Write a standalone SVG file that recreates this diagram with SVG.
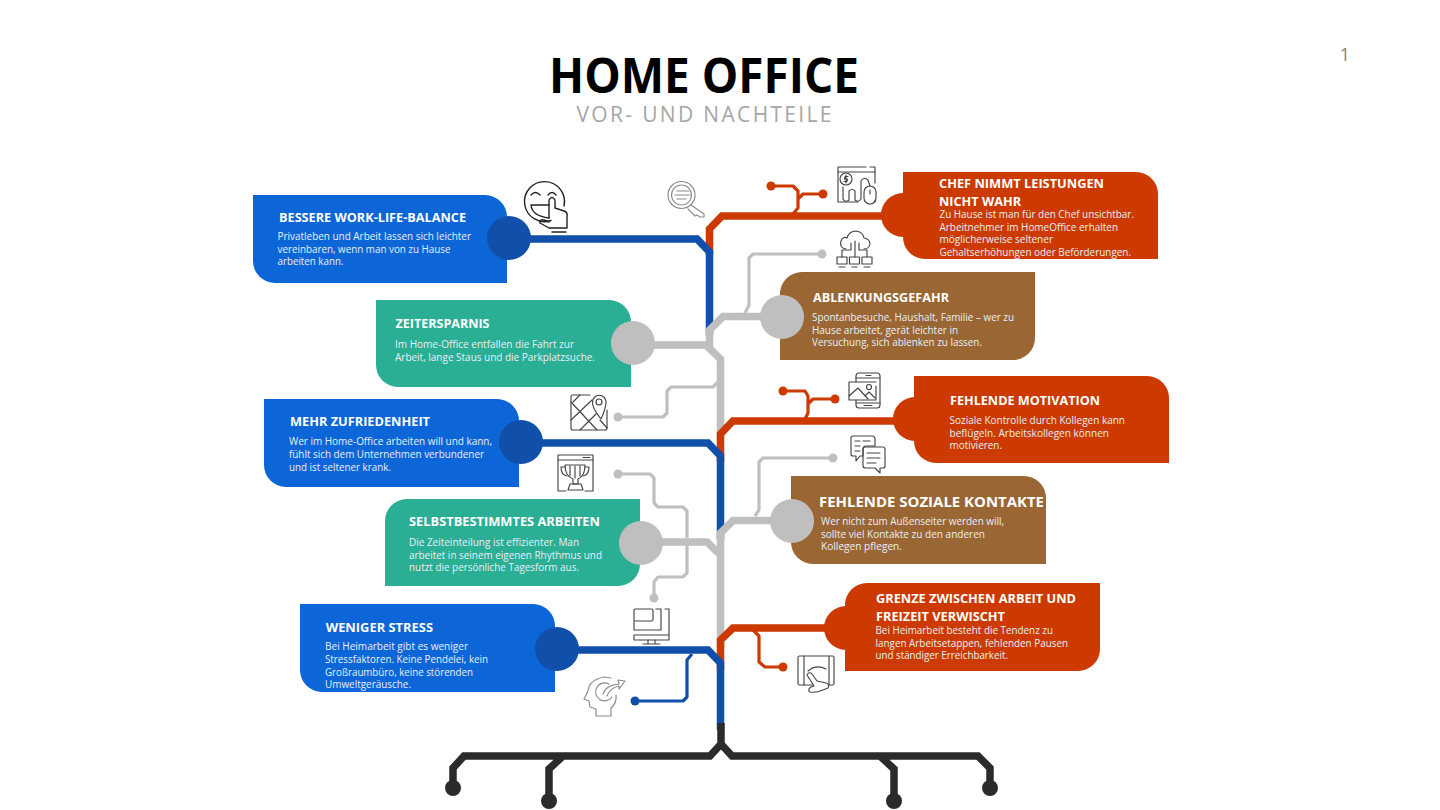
<svg xmlns="http://www.w3.org/2000/svg" width="1440" height="810" viewBox="0 0 1440 810">
<style>
text{font-family:"Open Sans","Noto Sans","Liberation Sans",sans-serif}
.h{font-size:13px;font-weight:700;fill:#fff}
.b{font-size:11px;fill:#e9eff7}
.blue{fill:#0c66d8}.green{fill:#2aae94}.red{fill:#cc3a00}.brown{fill:#9a6634}
.cb{fill:#1050aa}.cg{fill:#bfbfbf}.cr{fill:#cc3a00}
.w{fill:none;stroke-width:7.500;stroke-linejoin:miter}
.t{fill:none;stroke-width:3.200;stroke-linejoin:round}
.sb{stroke:#1050aa}.sg{stroke:#bfbfbf}.sr{stroke:#cc3a00}.sk{stroke:#2b2b2b}
.i{fill:none;stroke:#444;stroke-width:1.150;stroke-linecap:round;stroke-linejoin:round}
.il{fill:none;stroke:#8c8c8c;stroke-width:1.200;stroke-linecap:round;stroke-linejoin:round}
</style>
<text x="704" y="93" text-anchor="middle" textLength="310" lengthAdjust="spacingAndGlyphs" style="font-size:48px;font-weight:700" fill="#000">HOME OFFICE</text>
<text x="704" y="122" text-anchor="middle" textLength="255" style="font-size:21px" fill="#a6a6a6">VOR- UND NACHTEILE</text>
<text x="1345" y="61" text-anchor="middle" style="font-size:18px" fill="#7f7f7f">1</text>

<g id="connectors">
<path class="w sr" d="M885 216H722L709.500 229V255"/>
<path class="t sr" d="M771 186H793L798 191V208L793 214M823 194H803L798 199"/>
<circle class="cr" cx="771" cy="186" r="4.500"/><circle class="cr" cx="823" cy="194" r="4.500"/>
<path class="w sb" d="M530 239H697L709.500 252V335"/>
<path class="t sg" d="M822 254H753L749 258V305L745 313"/><circle class="cg" cx="822" cy="254" r="4.500"/>
<path class="t sg" d="M618 417H663L667 413V391L671 387H713L718 382"/><circle class="cg" cx="618" cy="417" r="4.500"/>
<path class="w sg" d="M770 316.500H723L709.500 330V350"/>
<path class="w sg" d="M650 345H706L720.500 359V440"/>
<path class="w sr" d="M895 421H733L720.500 434V462"/>
<path class="t sr" d="M783 391H805L808 396V413L805 419M835 399H813L808 404"/>
<circle class="cr" cx="783" cy="391" r="4.500"/><circle class="cr" cx="835" cy="399" r="4.500"/>
<path class="w sb" d="M540 443H708L720.500 456V540"/>
<path class="t sg" d="M833 458H763L759 462V510L755 516"/><circle class="cg" cx="833" cy="458" r="4.500"/>
<path class="t sg" d="M618 474H650L654 478V503L658 507H683L687 511V538M654 598V582L658 577H683L687 573V545"/>
<circle class="cg" cx="618" cy="474" r="4.500"/><circle class="cg" cx="654" cy="598" r="4.500"/>
<path class="w sg" d="M780 520.500H733L720.500 533V555"/>
<path class="w sg" d="M660 542H707L720.500 555V648"/>
<path class="w sr" d="M830 628H733L720.500 640V670"/>
<path class="t sr" d="M753 630L759 636V662L765 667H783"/><circle class="cr" cx="783" cy="667" r="4.500"/>
<path class="w sb" d="M575 650H708L720.500 663V730"/>
<path class="t sb" d="M635 701H683L687 697V660L692 654"/><circle class="cb" cx="635" cy="701" r="4.500"/>
<path class="w sk" d="M721 723V744M453 788V768L464 756H710L721 744L732 756H978L990 768V788M549 801V769L563 756M894 801V769L880 756"/>
<circle fill="#2b2b2b" cx="453" cy="788" r="8"/><circle fill="#2b2b2b" cx="549" cy="801" r="8"/><circle fill="#2b2b2b" cx="894" cy="801" r="8"/><circle fill="#2b2b2b" cx="990" cy="788" r="8"/>
</g>

<g id="node-balance">
<path class="blue" d="M253 195H485A22 22 0 0 1 507 217V283H275A22 22 0 0 1 253 261Z"/>
<circle class="cb" cx="509" cy="238" r="22"/>
<text class="h" x="279" y="222" textLength="187" lengthAdjust="spacingAndGlyphs">BESSERE WORK-LIFE-BALANCE</text>
<text class="b" x="277.500" y="240" textLength="193.500" lengthAdjust="spacingAndGlyphs">Privatleben und Arbeit lassen sich leichter</text>
<text class="b" x="277.500" y="252.700" textLength="173" lengthAdjust="spacingAndGlyphs">vereinbaren, wenn man von zu Hause</text>
<text class="b" x="277.500" y="265" textLength="66" lengthAdjust="spacingAndGlyphs">arbeiten kann.</text>
</g>
<g id="node-zeit">
<path class="green" d="M376 300H609A22 22 0 0 1 631 322V387H398A22 22 0 0 1 376 365Z"/>
<circle class="cg" cx="633" cy="343" r="22"/>
<text class="h" x="395.500" y="328" textLength="94" lengthAdjust="spacingAndGlyphs">ZEITERSPARNIS</text>
<text class="b" x="395" y="348" textLength="179" lengthAdjust="spacingAndGlyphs">Im Home-Office entfallen die Fahrt zur</text>
<text class="b" x="395" y="361" textLength="200" lengthAdjust="spacingAndGlyphs">Arbeit, lange Staus und die Parkplatzsuche.</text>
</g>
<g id="node-zufrieden">
<path class="blue" d="M264 399H497A22 22 0 0 1 519 421V487H286A22 22 0 0 1 264 465Z"/>
<circle class="cb" cx="521" cy="442" r="22"/>
<text class="h" x="290" y="425.700" textLength="140" lengthAdjust="spacingAndGlyphs">MEHR ZUFRIEDENHEIT</text>
<text class="b" x="289" y="445.300" textLength="203" lengthAdjust="spacingAndGlyphs">Wer im Home-Office arbeiten will und kann,</text>
<text class="b" x="289" y="458" textLength="195" lengthAdjust="spacingAndGlyphs">fühlt sich dem Unternehmen verbundener</text>
<text class="b" x="289" y="470.500" textLength="102" lengthAdjust="spacingAndGlyphs">und ist seltener krank.</text>
</g>
<g id="node-selbst">
<path class="green" d="M407 499H640V564A22 22 0 0 1 618 586H385V521A22 22 0 0 1 407 499Z"/>
<circle class="cg" cx="641" cy="543" r="22"/>
<text class="h" x="409" y="525.700" textLength="191" lengthAdjust="spacingAndGlyphs">SELBSTBESTIMMTES ARBEITEN</text>
<text class="b" x="409" y="545.700" textLength="170" lengthAdjust="spacingAndGlyphs">Die Zeiteinteilung ist effizienter. Man</text>
<text class="b" x="409" y="558.500" textLength="193" lengthAdjust="spacingAndGlyphs">arbeitet in seinem eigenen Rhythmus und</text>
<text class="b" x="409" y="571" textLength="170" lengthAdjust="spacingAndGlyphs">nutzt die persönliche Tagesform aus.</text>
</g>
<g id="node-stress">
<path class="blue" d="M300 604H533A22 22 0 0 1 555 626V692H322A22 22 0 0 1 300 670Z"/>
<circle class="cb" cx="557" cy="649" r="22"/>
<text class="h" x="325.700" y="632" textLength="107.300" lengthAdjust="spacingAndGlyphs">WENIGER STRESS</text>
<text class="b" x="325" y="650" textLength="143" lengthAdjust="spacingAndGlyphs">Bei Heimarbeit gibt es weniger</text>
<text class="b" x="325" y="663" textLength="163" lengthAdjust="spacingAndGlyphs">Stressfaktoren. Keine Pendelei, kein</text>
<text class="b" x="325" y="675.500" textLength="148" lengthAdjust="spacingAndGlyphs">Großraumbüro, keine störenden</text>
<text class="b" x="325" y="688" textLength="86" lengthAdjust="spacingAndGlyphs">Umweltgeräusche.</text>
</g>
<g id="node-chef">
<path class="red" d="M903 172H1136A22 22 0 0 1 1158 194V259H925A22 22 0 0 1 903 237Z"/>
<circle class="cr" cx="903" cy="215" r="22"/>
<text class="h" x="939" y="188" textLength="165" lengthAdjust="spacingAndGlyphs">CHEF NIMMT LEISTUNGEN</text>
<text class="h" x="939" y="205.700" textLength="82" lengthAdjust="spacingAndGlyphs">NICHT WAHR</text>
<text class="b" x="939.500" y="218" textLength="194.500" lengthAdjust="spacingAndGlyphs">Zu Hause ist man für den Chef unsichtbar.</text>
<text class="b" x="939.500" y="231" textLength="178.500" lengthAdjust="spacingAndGlyphs">Arbeitnehmer im HomeOffice erhalten</text>
<text class="b" x="939.500" y="243" textLength="113.500" lengthAdjust="spacingAndGlyphs">möglicherweise seltener</text>
<text class="b" x="939.500" y="256" textLength="191.500" lengthAdjust="spacingAndGlyphs">Gehaltserhöhungen oder Beförderungen.</text>
</g>
<g id="node-ablenkung">
<path class="brown" d="M802 272H1035V338A22 22 0 0 1 1013 360H780V294A22 22 0 0 1 802 272Z"/>
<circle class="cg" cx="782" cy="317" r="22"/>
<text class="h" x="813" y="301.700" textLength="136" lengthAdjust="spacingAndGlyphs">ABLENKUNGSGEFAHR</text>
<text class="b" x="812" y="321" textLength="202" lengthAdjust="spacingAndGlyphs">Spontanbesuche, Haushalt, Familie – wer zu</text>
<text class="b" x="812" y="334" textLength="146" lengthAdjust="spacingAndGlyphs">Hause arbeitet, gerät leichter in</text>
<text class="b" x="812" y="346" textLength="170" lengthAdjust="spacingAndGlyphs">Versuchung, sich ablenken zu lassen.</text>
</g>
<g id="node-motivation">
<path class="red" d="M914 376H1147A22 22 0 0 1 1169 398V463H936A22 22 0 0 1 914 441Z"/>
<circle class="cr" cx="915" cy="419" r="22"/>
<text class="h" x="950" y="404.700" textLength="150" lengthAdjust="spacingAndGlyphs">FEHLENDE MOTIVATION</text>
<text class="b" x="949.500" y="424" textLength="175.500" lengthAdjust="spacingAndGlyphs">Soziale Kontrolle durch Kollegen kann</text>
<text class="b" x="949.500" y="437" textLength="159.500" lengthAdjust="spacingAndGlyphs">beflügeln. Arbeitskollegen können</text>
<text class="b" x="949.500" y="449" textLength="52.500" lengthAdjust="spacingAndGlyphs">motivieren.</text>
</g>
<g id="node-sozial">
<path class="brown" d="M791 476H1024A22 22 0 0 1 1046 498V564H813A22 22 0 0 1 791 542Z"/>
<circle class="cg" cx="792" cy="521" r="22"/>
<text class="h" x="819" y="506.700" textLength="225" lengthAdjust="spacingAndGlyphs" style="font-size:15px">FEHLENDE SOZIALE KONTAKTE</text>
<text class="b" x="821" y="525" textLength="183" lengthAdjust="spacingAndGlyphs">Wer nicht zum Außenseiter werden will,</text>
<text class="b" x="821" y="538" textLength="164" lengthAdjust="spacingAndGlyphs">sollte viel Kontakte zu den anderen</text>
<text class="b" x="821" y="550" textLength="81" lengthAdjust="spacingAndGlyphs">Kollegen pflegen.</text>
</g>
<g id="node-grenze">
<path class="red" d="M867 583H1100V649A22 22 0 0 1 1078 671H845V605A22 22 0 0 1 867 583Z"/>
<circle class="cr" cx="846" cy="628" r="22"/>
<text class="h" x="876" y="602.700" textLength="200" lengthAdjust="spacingAndGlyphs">GRENZE ZWISCHEN ARBEIT UND</text>
<text class="h" x="876" y="620.700" textLength="129" lengthAdjust="spacingAndGlyphs">FREIZEIT VERWISCHT</text>
<text class="b" x="875.500" y="634" textLength="177.500" lengthAdjust="spacingAndGlyphs">Bei Heimarbeit besteht die Tendenz zu</text>
<text class="b" x="875.500" y="647" textLength="192.500" lengthAdjust="spacingAndGlyphs">langen Arbeitsetappen, fehlenden Pausen</text>
<text class="b" x="875.500" y="659" textLength="132.500" lengthAdjust="spacingAndGlyphs">und ständiger Erreichbarkeit.</text>
</g>

<g id="icon-smile" class="i" style="stroke:#222;stroke-width:1.400">
<path d="M551 220.500A20 20 0 1 1 564 206"/>
<path d="M531 195Q535.500 190 540 195M548 195Q552 190 556 195"/>
<path d="M531 205H549M531 205Q532 216 549 218"/>
<path d="M549 218V200Q552 195 555 200V208L564 211Q568 212 567 217V228H549L540 223Q539 219 544 220L549 222"/>
<path d="M552 232H566"/>
</g>
<g id="icon-key" class="il">
<circle cx="681.500" cy="195" r="13.500"/><circle cx="681.500" cy="195" r="10"/>
<path d="M677 191H689M675 195H690M677 199H686"/>
<path d="M691 205L704 214V217H700L697 215L695 216L688 209"/>
</g>
<g id="icon-chart" class="i">
<path d="M866 167H838V202H858M870 167H875V183M875 200V202"/>
<path d="M838 172H875"/><circle cx="846" cy="179" r="6"/>
<path d="M848 176.500H845L844.500 179H847.500L847 181.500H844M846 175V183"/>
<path d="M843 187V199Q845 203 849 200V191Q852 188 855 191V200Q858 203 861 199V181Q864 176 868 180L870 186"/>
<rect x="864" y="186" width="12" height="18" rx="6"/><path d="M870 190V194"/>
</g>
<g id="icon-cloud" class="i">
<path d="M846 249Q839 248 841 241Q843 236 847 238Q849 231 856 231Q863 232 864 238Q870 239 870 244Q869 249 864 249"/>
<path d="M855 241V257M851 243V250H842V257M859 243V250H867V257"/>
<rect x="837" y="257" width="10" height="7"/><rect x="849.500" y="257" width="10" height="7"/><rect x="862" y="257" width="10" height="7"/>
<path d="M839 267H845M852 267H857M864 267H870"/>
</g>
<g id="icon-map" class="i">
<path d="M590 395H573Q571 395 571 397V428Q571 430 573 430H605Q607 430 607 428V410"/>
<path d="M571 402L597 430M571 420L592 400M580 395L573 402M580 430L596 414M600 420L607 428"/>
<path d="M601 419Q592 408 592.500 402A6.700 6.700 0 0 1 606 402Q606 408 601 419Z"/><circle cx="599" cy="402" r="3"/>
</g>
<g id="icon-phone" class="i">
<path d="M856 382V376Q856 373 859 373H877Q880 373 880 376V405Q880 408 877 408H859Q856 408 856 405V400"/>
<path d="M856 378H880M856 403H880M866 375.500H871M864 405.500H872"/>
<path d="M849 382H876M849 382V400H876V386"/>
<path d="M849 396L858 388L868 399M865 396L869 392L875 398"/><circle cx="869" cy="387" r="2.500"/>
</g>
<g id="icon-trophy" class="i">
<path d="M566 491H558V455H593V491H585"/>
<path d="M558 460H593M583 457.500H590"/>
<path d="M565 465H585Q585 476 578 479V484H573V479Q565 476 565 465Z"/>
<path d="M570 466V476M575 466V478M580 466V476M565 467H561Q561 475 567 476M585 467H589Q589 475 583 476"/>
<path d="M570 484H581L583 490H568Z"/>
</g>
<g id="icon-chat" class="i">
<path d="M853 436H872Q875 436 875 439V446H866Q863 446 863 449V456H860L856 461V456H853Q851 456 851 454V438Q851 436 853 436Z"/>
<path d="M866 447H883Q885 447 885 449V466Q885 468 883 468H880V473L875 468H866Q863 468 863 466V449Q863 447 866 447Z"/>
<path d="M855 441H860M863 441H870M855 446H860M855 451H860M867 453H880M867 458H880M867 463H876"/>
</g>
<g id="icon-monitor" class="i">
<rect x="634" y="609" width="19" height="12" rx="1.500"/>
<path d="M634 621V630H661V609H656M665 609H669V640H634V635H669"/>
<path d="M648 640V644M655 640V644M643 644H660"/>
</g>
<g id="icon-head" class="il">
<path d="M596 716V709L590 707L589 701L584 699L588 691Q589 680 604 677L611 678M616 695Q617 703 611 708V716H596"/>
<path d="M609 684A9 9 0 1 0 612 697"/>
<path d="M603 694Q606 685 619 684L618 680L625 681L619 689L619 686Q610 688 607 696"/>
</g>
<g id="icon-tablet" class="i">
<rect x="798" y="656" width="36" height="29" rx="1.500"/>
<path d="M804 656V685M829 656V685"/>
<path d="M808 671Q816 664 826 669"/>
<path d="M807 675Q809 671 812 674L817 681L826 683Q830 684 828 688L823 690Q816 693 810 692Q807 690 811 687L814 686Z" fill="#fff"/>
</g>
</svg>
